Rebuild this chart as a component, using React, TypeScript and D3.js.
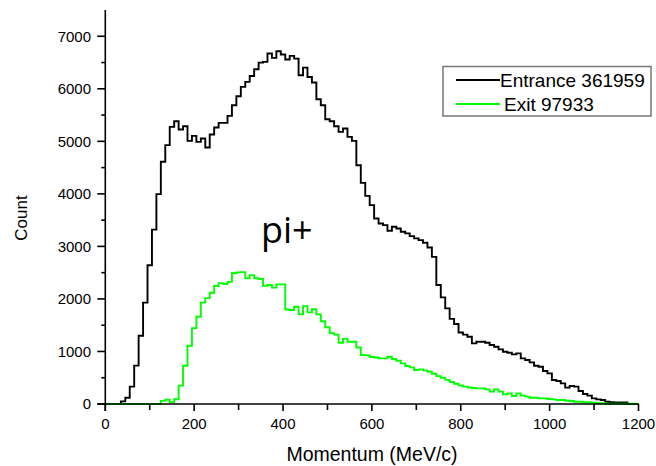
import React from "react";
import * as d3 from "d3";

const momentum: number[] = d3.range(0, 1201, 10);

const entrance: number[] = [
  0, 0, 0, 0, 50, 120, 330, 730, 1300, 1930,
  2640, 3320, 3995, 4610, 4927, 5275, 5383, 5225, 5288, 5009,
  5104, 4990, 5054, 4883, 5130, 5263, 5351, 5351, 5485, 5688,
  5859, 6036, 6131, 6245, 6372, 6499, 6512, 6671, 6588, 6715,
  6652, 6557, 6626, 6575, 6258, 6404, 6226, 6119, 5802, 5688,
  5421, 5383, 5288, 5180, 5244, 5085, 5009, 4546, 4210, 3962,
  3785, 3532, 3437, 3405, 3297, 3373, 3342, 3278, 3247, 3196,
  3152, 3120, 3069, 2980, 2800, 2264, 2030, 1820, 1620, 1522,
  1360, 1320, 1280, 1154, 1186, 1186, 1167, 1122, 1091, 1040,
  996, 976, 945, 964, 869, 837, 793, 729, 710, 628,
  583, 457, 437, 393, 311, 342, 330, 247, 190, 159,
  108, 89, 76, 44, 32, 30, 30, 30, 0, 0, 0,
];

const exit: number[] = [
  0, 0, 0, 0, 0, 0, 0, 0, 0, 0,
  0, 0, 0, 60, 80, 35, 90, 350, 729, 1110,
  1445, 1661, 1930, 2015, 2118, 2245, 2300, 2283, 2325, 2490,
  2505, 2510, 2391, 2454, 2395, 2380, 2250, 2264, 2215, 2277,
  2277, 1800, 1788, 1851, 1706, 1864, 1744, 1805, 1706, 1575,
  1460, 1350, 1320, 1167, 1240, 1186, 1186, 1075, 932, 925,
  895, 885, 869, 869, 900, 856, 824, 774, 723, 698,
  647, 660, 640, 615, 575, 530, 500, 460, 420, 385,
  355, 330, 315, 305, 298, 298, 279, 235, 279, 235,
  184, 203, 152, 203, 159, 140, 120, 120, 108, 108,
  95, 89, 76, 76, 63, 57, 44, 44, 32, 32,
  25, 13, 13, 6, 6, 5, 5, 5, 5, 5, 0,
];

const xMajorTicks: number[] = [0, 200, 400, 600, 800, 1000, 1200];
const xMinorTicks: number[] = [100, 300, 500, 700, 900, 1100];
const yMajorTicks: number[] = [0, 1000, 2000, 3000, 4000, 5000, 6000, 7000];
const yMinorTicks: number[] = [500, 1500, 2500, 3500, 4500, 5500, 6500];

const seriesNames: string[] = ["Entrance 361959", "Exit 97933"];
const seriesColors: string[] = ["#000000", "#00ff00"];

const W = 656;
const H = 466;
const FONT = "'Liberation Sans', Arial, sans-serif";

export default function App() {
  const x = d3.scaleLinear().domain([0, 1200]).range([105.3, 638.5]);
  const y = d3.scaleLinear().domain([0, 7500]).range([404, 10]);

  const line = d3
    .line<number>()
    .x((_, i) => x(momentum[i]))
    .y((d) => y(d))
    .curve(d3.curveStep);

  const series = [entrance, exit];

  return (
    <svg
      width={W}
      height={H}
      style={{ position: "absolute", left: 0, top: 0, background: "#fff" }}
    >
      <rect x={0} y={0} width={W} height={H} fill="#fff" />
      {series.map((s, k) => (
        <path
          key={k}
          d={line(s) || ""}
          fill="none"
          stroke={seriesColors[k]}
          strokeWidth={1.9}
          strokeLinejoin="miter"
        />
      ))}
      {/* axes */}
      <line x1={x(0)} x2={x(0)} y1={y(7500)} y2={y(0) + 7} stroke="#000" strokeWidth={1.6} />
      <line x1={x(0) - 8} x2={x(1200)} y1={y(0)} y2={y(0)} stroke="#000" strokeWidth={1.6} />
      {yMajorTicks.map((t) => (
        <g key={"ym" + t}>
          <line x1={x(0) - 8} x2={x(0)} y1={y(t)} y2={y(t)} stroke="#000" strokeWidth={1.6} />
          <text
            x={91}
            y={y(t)}
            dy="0.36em"
            textAnchor="end"
            fontFamily={FONT}
            fontSize={15}
            fill="#000"
          >
            {t}
          </text>
        </g>
      ))}
      {yMinorTicks.map((t) => (
        <line key={"yn" + t} x1={x(0) - 4} x2={x(0)} y1={y(t)} y2={y(t)} stroke="#000" strokeWidth={1.6} />
      ))}
      {xMajorTicks.map((t) => (
        <g key={"xm" + t}>
          <line x1={x(t)} x2={x(t)} y1={y(0)} y2={y(0) + 7} stroke="#000" strokeWidth={1.6} />
          <text
            x={x(t)}
            y={429}
            textAnchor="middle"
            fontFamily={FONT}
            fontSize={15}
            fill="#000"
          >
            {t}
          </text>
        </g>
      ))}
      {xMinorTicks.map((t) => (
        <line key={"xn" + t} x1={x(t)} x2={x(t)} y1={y(0)} y2={y(0) + 6} stroke="#000" strokeWidth={1.6} />
      ))}
      {/* axis titles */}
      <text
        x={372}
        y={461}
        textAnchor="middle"
        fontFamily={FONT}
        fontSize={19.5}
        fill="#000"
      >
        Momentum (MeV/c)
      </text>
      <text
        transform="translate(27,218) rotate(-90)"
        textAnchor="middle"
        fontFamily={FONT}
        fontSize={17}
        fill="#000"
      >
        Count
      </text>
      {/* annotation */}
      <text x={261} y={243} fontFamily="'Open Sans', 'Noto Sans', sans-serif" fontSize={36} fill="#000">
        pi+
      </text>
      {/* legend */}
      <rect x={443} y={66.5} width={208} height={49.5} fill="#fff" stroke="#777" strokeWidth={1.5} />
      {seriesNames.map((n, k) => (
        <g key={n}>
          <line x1={456} x2={500} y1={80 + k * 24} y2={80 + k * 24} stroke={seriesColors[k]} strokeWidth={2} />
          <text
            x={k === 0 ? 500 : 504}
            y={86.5 + k * 24}
            fontFamily={FONT}
            fontSize={19}
            fill="#000"
          >
            {n}
          </text>
        </g>
      ))}
    </svg>
  );
}
